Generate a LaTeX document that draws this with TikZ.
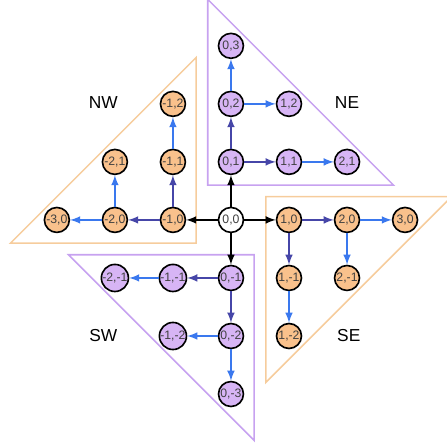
\documentclass[tikz,border=0pt]{standalone}
\usepackage{fontspec}
\setmainfont{Liberation Sans}
\definecolor{orfill}{HTML}{F9C18C}
\definecolor{pufill}{HTML}{D7B5F5}
\definecolor{orline}{HTML}{F6CC9C}
\definecolor{puline}{HTML}{C7A2F0}
\definecolor{dkblue}{HTML}{4646A8}
\definecolor{ltblue}{HTML}{3A78EE}
\begin{document}
\begin{tikzpicture}[>=latex,
  pt/.style={circle,draw=black,line width=0.8pt,minimum size=0.43cm,inner sep=0pt,
    font=\fontsize{6}{6}\selectfont,text=black!75},
  ornode/.style={pt,fill=orfill},
  punode/.style={pt,fill=pufill},
  blk/.style={->,line width=0.7pt,black},
  dk/.style={->,line width=0.7pt,dkblue},
  lt/.style={->,line width=0.7pt,ltblue},
  tri/.style={line width=0.75pt}]
\useasboundingbox (-3.98,-3.93) rectangle (3.71,3.79);

% quadrants
\draw[tri,puline](-0.4,0.6)--(2.8,0.6)--(-0.4,3.8)--cycle;
\draw[tri,orline](0.6,0.4)--(0.6,-2.8)--(3.8,0.4)--cycle;
\draw[tri,puline](0.4,-0.6)--(-2.8,-0.6)--(0.4,-3.8)--cycle;
\draw[tri,orline](-0.6,-0.4)--(-0.6,2.8)--(-3.8,-0.4)--cycle;

\node[font=\fontsize{8.5}{10}\selectfont] at (-2.2,2.02) {NW};
\node[font=\fontsize{8.5}{10}\selectfont] at (2.0,2.02) {NE};
\node[font=\fontsize{8.5}{10}\selectfont] at (-2.2,-2.0) {SW};
\node[font=\fontsize{8.5}{10}\selectfont] at (2.03,-2.0) {SE};

% nodes
\node[pt,fill=white] (o) at (0,0) {0,0};
\node[punode] (n01) at (0,1) {0,1};
\node[punode] (n02) at (0,2) {0,2};
\node[punode] (n03) at (0,3) {0,3};
\node[punode] (n11) at (1,1) {1,1};
\node[punode] (n21) at (2,1) {2,1};
\node[punode] (n12) at (1,2) {1,2};
\node[ornode] (e10) at (1,0) {1,0};
\node[ornode] (e20) at (2,0) {2,0};
\node[ornode] (e30) at (3,0) {3,0};
\node[ornode] (e1m1) at (1,-1) {1,-1};
\node[ornode] (e2m1) at (2,-1) {2,-1};
\node[ornode] (e1m2) at (1,-2) {1,-2};
\node[punode] (s0m1) at (0,-1) {0,-1};
\node[punode] (s0m2) at (0,-2) {0,-2};
\node[punode] (s0m3) at (0,-3) {0,-3};
\node[punode] (sm1m1) at (-1,-1) {-1,-1};
\node[punode] (sm2m1) at (-2,-1) {-2,-1};
\node[punode] (sm1m2) at (-1,-2) {-1,-2};
\node[ornode] (wm10) at (-1,0) {-1,0};
\node[ornode] (wm20) at (-2,0) {-2,0};
\node[ornode] (wm30) at (-3,0) {-3,0};
\node[ornode] (wm11) at (-1,1) {-1,1};
\node[ornode] (wm21) at (-2,1) {-2,1};
\node[ornode] (wm12) at (-1,2) {-1,2};

% edges
\draw[blk](o)--(e10);\draw[blk](o)--(n01);
\draw[blk](o)--(wm10);\draw[blk](o)--(s0m1);
\draw[dk](n01)--(n02);\draw[dk](n01)--(n11);
\draw[dk](e10)--(e20);\draw[dk](e10)--(e1m1);
\draw[dk](wm10)--(wm20);\draw[dk](wm10)--(wm11);
\draw[dk](s0m1)--(s0m2);\draw[dk](s0m1)--(sm1m1);
\draw[lt](n02)--(n03);\draw[lt](n02)--(n12);\draw[lt](n11)--(n21);
\draw[lt](e20)--(e30);\draw[lt](e20)--(e2m1);\draw[lt](e1m1)--(e1m2);
\draw[lt](wm20)--(wm30);\draw[lt](wm20)--(wm21);\draw[lt](wm11)--(wm12);
\draw[lt](s0m2)--(s0m3);\draw[lt](s0m2)--(sm1m2);\draw[lt](sm1m1)--(sm2m1);
\end{tikzpicture}
\end{document}
